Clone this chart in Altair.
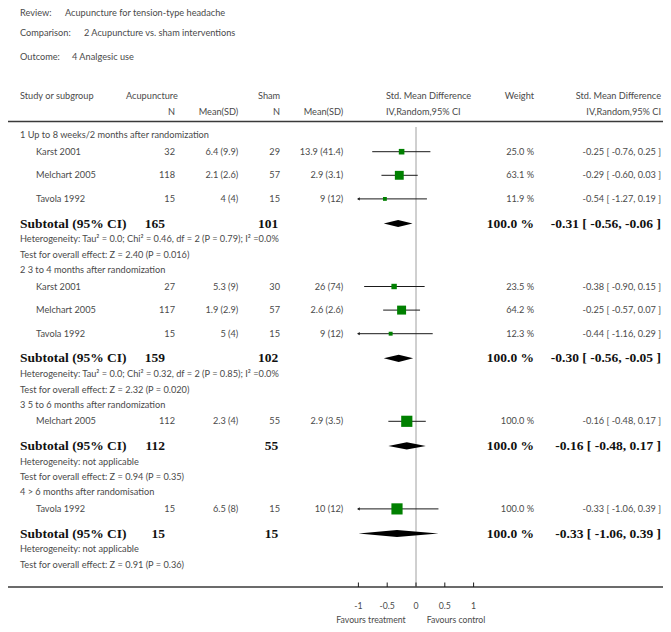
import altair as alt
import pandas as pd

# ---------------- data ----------------
review = "Acupuncture for tension-type headache"
comparison = "2 Acupuncture vs. sham interventions"
outcome = "4 Analgesic use"

groups = [
    "1 Up to 8 weeks/2 months after randomization",
    "2 3 to 4 months after randomization",
    "3 5 to 6 months after randomization",
    "4 > 6 months after randomisation",
]
study_group = [0, 0, 0, 1, 1, 1, 2, 3]
study_names = ["Karst 2001", "Melchart 2005", "Tavola 1992",
               "Karst 2001", "Melchart 2005", "Tavola 1992",
               "Melchart 2005", "Tavola 1992"]
acu_n = [32, 118, 15, 27, 117, 15, 112, 15]
acu_msd = ["6.4 (9.9)", "2.1 (2.6)", "4 (4)", "5.3 (9)", "1.9 (2.9)", "5 (4)", "2.3 (4)", "6.5 (8)"]
sham_n = [29, 57, 15, 30, 57, 15, 55, 15]
sham_msd = ["13.9 (41.4)", "2.9 (3.1)", "9 (12)", "26 (74)", "2.6 (2.6)", "9 (12)", "2.9 (3.5)", "10 (12)"]
weights = [25.0, 63.1, 11.9, 23.5, 64.2, 12.3, 100.0, 100.0]
smd = [-0.25, -0.29, -0.54, -0.38, -0.25, -0.44, -0.16, -0.33]
smd_lo = [-0.76, -0.60, -1.27, -0.90, -0.57, -1.16, -0.48, -1.06]
smd_hi = [0.25, 0.03, 0.19, 0.15, 0.07, 0.29, 0.17, 0.39]

sub_acu_n = [165, 159, 112, 15]
sub_sham_n = [101, 102, 55, 15]
sub_weight = [100.0, 100.0, 100.0, 100.0]
sub_smd = [-0.31, -0.30, -0.16, -0.33]
sub_lo = [-0.56, -0.56, -0.48, -1.06]
sub_hi = [-0.06, -0.05, 0.17, 0.39]
heterogeneity = [
    "Heterogeneity: Tau² = 0.0; Chi² = 0.46, df = 2 (P = 0.79); I² =0.0%",
    "Heterogeneity: Tau² = 0.0; Chi² = 0.32, df = 2 (P = 0.85); I² =0.0%",
    "Heterogeneity: not applicable",
    "Heterogeneity: not applicable",
]
overall = [
    "Test for overall effect: Z = 2.40 (P = 0.016)",
    "Test for overall effect: Z = 2.32 (P = 0.020)",
    "Test for overall effect: Z = 0.94 (P = 0.35)",
    "Test for overall effect: Z = 0.91 (P = 0.36)",
]
tick_values = [-1, -0.5, 0, 0.5, 1]
tick_labels = ["-1", "-0.5", "0", "0.5", "1"]
favours = ["Favours treatment", "Favours control"]

# ---------------- layout (page pixel units) ----------------
W, H = 655, 616
OFF = 8  # page margin
SANS = "Lato"
SERIF = "Liberation Serif"
TXT = "#4a4a4a"
FS = 9.2
BFS = 13.5

LEFT = 20      # subgroup / subtotal / heterogeneity column
STUDY_X = 36   # indented study names
X_N1, X_M1, X_N2, X_M2 = 175, 238.3, 280, 343.3
X_SN1, X_SN2 = 165, 278.3
X_W, X_CI = 534, 661

def fmt_ci(e, lo, hi):
    return f"{e:.2f} [ {lo:.2f}, {hi:.2f} ]"

rows = []
y = 135.0
for g in range(4):
    if g > 0:
        y += 14.8
    rows.append(dict(kind="group", label=groups[g], y=y))
    idx = [i for i in range(len(study_names)) if study_group[i] == g]
    for j, i in enumerate(idx):
        y += 16.7 if j == 0 else 23.6
        rows.append(dict(kind="study", label=study_names[i], y=y,
                         n1=str(acu_n[i]), m1=acu_msd[i], n2=str(sham_n[i]), m2=sham_msd[i],
                         w=f"{weights[i]:.1f} %", ci=fmt_ci(smd[i], smd_lo[i], smd_hi[i]),
                         est=smd[i], lo=max(smd_lo[i], -1), hi=min(smd_hi[i], 1),
                         arrow=smd_lo[i] < -1, weight=weights[i]))
    y += 24.6
    rows.append(dict(kind="subtotal", label="Subtotal (95% CI)", y=y,
                     n1=str(sub_acu_n[g]), n2=str(sub_sham_n[g]),
                     w=f"{sub_weight[g]:.1f} %", ci=fmt_ci(sub_smd[g], sub_lo[g], sub_hi[g]),
                     est=sub_smd[g], lo=max(sub_lo[g], -1), hi=min(sub_hi[g], 1), grp=g))
    y += 15.8
    rows.append(dict(kind="het", label=heterogeneity[g], y=y))
    y += 15.7
    rows.append(dict(kind="test", label=overall[g], y=y))

df = pd.DataFrame(rows)
studies = df[df.kind == "study"].reset_index(drop=True)
subs = df[df.kind == "subtotal"].reset_index(drop=True)
plain = df[df.kind.isin(["group", "het", "test"])].reset_index(drop=True)

# diamond vertices
dia = []
for _, r in subs.iterrows():
    for xv, hh in ((r.lo, 0.0), (r.est, 3.6), (r.hi, 0.0)):
        dia.append(dict(grp=int(r.grp), x=xv, y1=r.y - hh, y2=r.y + hh))
dia = pd.DataFrame(dia)

arrows = studies[studies.arrow].assign(ax=-1.0)
ticks_df = pd.DataFrame({"v": tick_values, "lab": tick_labels})

AXIS_Y = 587.0
ZERO_TOP = 127.0

yscale = alt.Scale(domain=[OFF, OFF + H], range=[0, H])
xscale = alt.Scale(domain=[-1, 1], range=[358.4 - OFF, 473.6 - OFF])

def Yf(f):
    return alt.Y(f, type="quantitative", scale=yscale, axis=None)

def Xf(f):
    return alt.X(f, type="quantitative", scale=xscale, axis=None)

def px(v):
    return alt.value(v - OFF)

layers = []

# title lines
for lab, val, yy, vx in (("Review:", review, 13, LEFT + 45), ("Comparison:", comparison, 33, LEFT + 64),
                         ("Outcome:", outcome, 57, LEFT + 52)):
    for t, xx in ((lab, LEFT), (val, vx)):
        layers.append(alt.Chart(pd.DataFrame({"t": [t]})).mark_text(
            align="left", baseline="middle", font=SANS, fontSize=FS, color=TXT
        ).encode(text="t:N", x=px(xx), y=px(yy)))

# column headers
headers = [
    ("Study or subgroup", LEFT, 96, "left"),
    ("Acupuncture", 126, 96, "left"),
    ("Sham", 258, 96, "left"),
    ("Std. Mean Difference", 386, 96, "left"),
    ("Weight", X_W, 96, "right"),
    ("Std. Mean Difference", X_CI, 96, "right"),
    ("N", X_N1, 111.5, "right"),
    ("Mean(SD)", X_M1, 111.5, "right"),
    ("N", X_N2, 111.5, "right"),
    ("Mean(SD)", X_M2, 111.5, "right"),
    ("IV,Random,95% CI", 386, 111.5, "left"),
    ("IV,Random,95% CI", X_CI, 111.5, "right"),
]
for t, xx, yy, al in headers:
    layers.append(alt.Chart(pd.DataFrame({"t": [t]})).mark_text(
        align=al, baseline="middle", font=SANS, fontSize=FS, color=TXT
    ).encode(text="t:N", x=px(xx), y=px(yy)))

# horizontal rules (header separator, bottom axis line)
for yy in (121.5, AXIS_Y):
    layers.append(alt.Chart(pd.DataFrame({"a": [0]})).mark_rule(
        color="#3a3a3a", strokeWidth=1.6
    ).encode(x=alt.value(0), x2=alt.value(W), y=px(yy)))

# zero line
layers.append(alt.Chart(pd.DataFrame({"v": [0]})).mark_rule(color="#a0a0a0", strokeWidth=1).encode(
    x=Xf("v"), y=px(ZERO_TOP), y2=px(AXIS_Y)))

# plain text rows
layers.append(alt.Chart(plain).mark_text(
    align="left", baseline="middle", font=SANS, fontSize=FS, color=TXT
).encode(text="label:N", x=px(LEFT), y=Yf("y")))

def col(field, xx, al, data, font=SANS, size=FS, weight="normal", color=TXT):
    return alt.Chart(data).mark_text(
        align=al, baseline="middle", font=font, fontSize=size, fontWeight=weight, color=color
    ).encode(text=f"{field}:N", x=px(xx), y=Yf("y"))

# study rows
layers += [
    col("label", STUDY_X, "left", studies),
    col("n1", X_N1, "right", studies),
    col("m1", X_M1, "right", studies),
    col("n2", X_N2, "right", studies),
    col("m2", X_M2, "right", studies),
    col("w", X_W, "right", studies),
    col("ci", X_CI, "right", studies),
]

# subtotal rows (bold serif)
bold = dict(font=SERIF, size=BFS, weight="bold", color="#111111")
layers += [
    col("label", LEFT, "left", subs, **bold),
    col("n1", X_SN1, "right", subs, **bold),
    col("n2", X_SN2, "right", subs, **bold),
    col("w", X_W, "right", subs, **bold),
    col("ci", X_CI, "right", subs, **bold),
]

# CI lines
layers.append(alt.Chart(studies).mark_rule(color="#1a1a1a", strokeWidth=1).encode(
    x=Xf("lo"), x2="hi:Q", y=Yf("y")))
# arrows for clipped CIs
layers.append(alt.Chart(arrows).mark_point(shape="triangle-left", filled=True, color="#1a1a1a",
                                           opacity=1, size=10).encode(x=Xf("ax"), y=Yf("y")))
# squares
layers.append(alt.Chart(studies).mark_point(shape="square", filled=True, color="#008000", opacity=1).encode(
    x=Xf("est"), y=Yf("y"),
    size=alt.Size("weight:Q", scale=alt.Scale(domain=[0, 100], range=[0, 125]), legend=None)))
# diamonds
layers.append(alt.Chart(dia).mark_area(color="#000000", orient="vertical", opacity=1).encode(
    x=Xf("x"), y=Yf("y1"), y2="y2:Q", detail="grp:N"))

# axis ticks and labels
layers.append(alt.Chart(ticks_df).mark_rule(color="#1a1a1a", strokeWidth=1).encode(
    x=Xf("v"), y=px(AXIS_Y - 4.5), y2=px(AXIS_Y)))
layers.append(alt.Chart(ticks_df).mark_text(
    align="center", baseline="middle", font=SANS, fontSize=FS - 0.5, color=TXT
).encode(text="lab:N", x=Xf("v"), y=px(606)))
for t, xx in zip(favours, (371, 456)):
    layers.append(alt.Chart(pd.DataFrame({"t": [t]})).mark_text(
        align="center", baseline="middle", font=SANS, fontSize=FS - 0.5, color=TXT
    ).encode(text="t:N", x=px(xx), y=px(620)))

chart = alt.layer(*layers).properties(
    width=W, height=H, padding=0, autosize=alt.AutoSizeParams(type="none")
).configure_view(stroke=None)

chart.save("out.html", embed_options={"renderer": "svg", "actions": False})
